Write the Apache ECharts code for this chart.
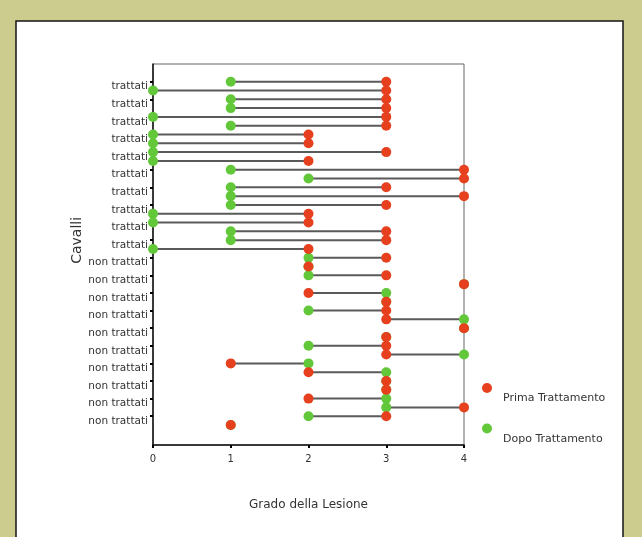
<!DOCTYPE html>
<html>
<head>
<meta charset="utf-8">
<script src="https://cdn.jsdelivr.net/npm/echarts@6/dist/echarts.min.js"></script>
<style>
  html, body { margin: 0; padding: 0; }
  #chart { width: 642px; height: 537px; }
</style>
</head>
<body>
<div id="chart"></div>
<script>
// One row per horse, top to bottom: 20 treated, then 20 untreated
const groupNames = ['trattati', 'non trattati'];
const groupSizes = [20, 20];

// Lesion grade before treatment (red)
const prima = [3, 3, 3, 3, 3, 3, 2, 2, 3, 2, 4, 4, 3, 4, 3, 2, 2, 3, 3, 2,
               3, 2, 3, 4, 2, 3, 3, 3, 4, 3, 3, 3, 1, 2, 3, 3, 2, 4, 3, 1];
// Lesion grade after treatment (green)
const dopo  = [1, 0, 1, 1, 0, 1, 0, 0, 0, 0, 1, 2, 1, 1, 1, 0, 0, 1, 1, 0,
               2, 2, 2, 4, 3, 3, 2, 4, 4, 3, 2, 4, 2, 3, 3, 3, 3, 3, 2, 1];

const gradeTicks = [0, 1, 2, 3, 4];

const seriesNames = ['Prima Trattamento', 'Dopo Trattamento'];
const colorPrima = '#E6401E';
const colorDopo = '#62C83A';

const categories = [];
groupNames.forEach((g, k) => { for (let i = 0; i < groupSizes[k]; i++) categories.push(g); });

const everyOther = (idx) => idx % 2 === 0;

const chart = echarts.init(document.getElementById('chart'), null, { renderer: 'canvas' });

const option = {
  backgroundColor: '#CDCC8F',
  animation: false,
  textStyle: { fontFamily: 'DejaVu Sans' },
  graphic: [{
    type: 'rect', z: -10,
    shape: { x: 16, y: 21, width: 607, height: 530 },
    style: { fill: '#ffffff', stroke: '#151515', lineWidth: 1.5 }
  }],
  grid: [
    { left: 153, top: 64, width: 311, height: 381, show: true,
      borderColor: '#666', borderWidth: 1, backgroundColor: 'transparent' },
    { left: 153, top: 81.7, width: 311, height: 343.3 }
  ],
  xAxis: [
    { gridIndex: 0, type: 'value', min: gradeTicks[0], max: gradeTicks[gradeTicks.length - 1], interval: 1,
      axisLine: { lineStyle: { color: '#111', width: 1.5 } },
      axisTick: { length: 3, lineStyle: { color: '#000', width: 2 } },
      axisLabel: { margin: 9, fontSize: 10, color: '#333' },
      splitLine: { show: false },
      name: 'Grado della Lesione', nameLocation: 'middle', nameGap: 54,
      nameTextStyle: { fontSize: 12, color: '#333' } },
    { gridIndex: 1, type: 'value', min: 0, max: 4, show: false }
  ],
  yAxis: [
    { gridIndex: 0, type: 'value', min: 0, max: 1,
      axisLine: { show: true, lineStyle: { color: '#111', width: 1.5 } },
      axisTick: { show: false }, axisLabel: { show: false }, splitLine: { show: false } },
    { gridIndex: 1, type: 'category', data: categories, inverse: true, boundaryGap: false,
      axisLine: { show: false },
      axisTick: { interval: everyOther, length: 3, lineStyle: { color: '#000', width: 2 } },
      axisLabel: { interval: everyOther, margin: 5, fontSize: 10.5, color: '#333',
                   verticalAlign: 'top', lineHeight: 10 },
      splitLine: { show: false },
      name: 'Cavalli', nameLocation: 'middle', nameRotate: 90, nameGap: 57,
      nameTextStyle: { fontSize: 14, color: '#333', padding: [0, 0, 0, 26] } }
  ],
  legend: {
    orient: 'vertical', left: 482, top: 376.5, padding: 0, itemGap: 13,
    itemWidth: 10, itemHeight: 10, icon: 'circle',
    data: seriesNames,
    formatter: (name) => '{gap|}\n{t|' + name + '}',
    textStyle: {
      fontSize: 11, color: '#333', padding: [0, 0, 0, 6],
      rich: {
        gap: { lineHeight: 21, fontSize: 11 },
        t: { lineHeight: 12, fontSize: 11, color: '#333' }
      }
    }
  },
  series: [
    {
      type: 'custom', name: 'range', xAxisIndex: 1, yAxisIndex: 1, z: 1,
      encode: { x: [0, 1], y: 2 },
      data: prima.map((p, i) => [p, dopo[i], i]),
      renderItem: (params, api) => {
        const a = api.coord([api.value(0), api.value(2)]);
        const b = api.coord([api.value(1), api.value(2)]);
        return { type: 'line', shape: { x1: a[0], y1: a[1], x2: b[0], y2: b[1] },
                 style: { stroke: '#5a5a5a', lineWidth: 2 } };
      },
      silent: true
    },
    {
      type: 'scatter', name: seriesNames[1], xAxisIndex: 1, yAxisIndex: 1, z: 3,
      symbolSize: 10, itemStyle: { color: colorDopo, opacity: 1 },
      data: dopo.map((v, i) => [v, i])
    },
    {
      type: 'scatter', name: seriesNames[0], xAxisIndex: 1, yAxisIndex: 1, z: 4,
      symbolSize: 10, itemStyle: { color: colorPrima, opacity: 1 },
      data: prima.map((v, i) => [v, i])
    }
  ]
};
chart.setOption(option);
</script>
</body>
</html>
